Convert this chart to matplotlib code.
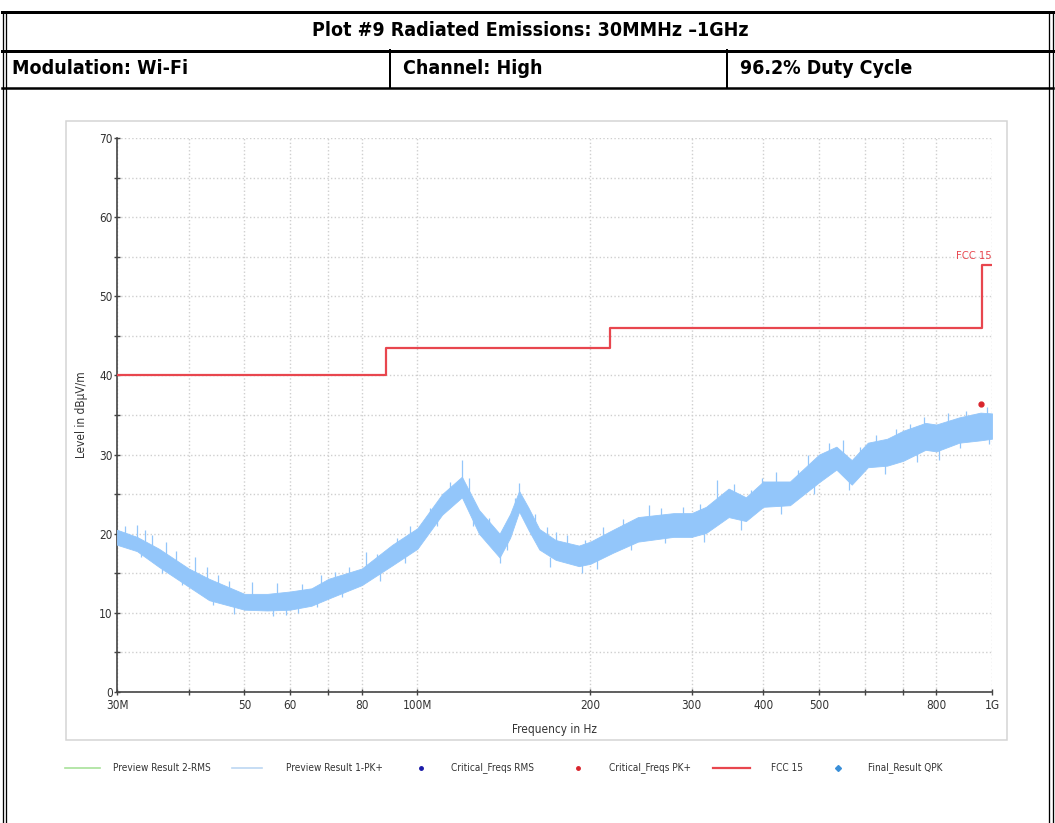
import matplotlib
matplotlib.use('Agg')
import matplotlib.pyplot as plt
from matplotlib.lines import Line2D
from matplotlib.patches import Rectangle

plt.rcParams['font.family'] = ['DejaVu Sans']
plt.rcParams['font.stretch'] = 'condensed'

W, H = 1055, 823

title = 'Plot #9 Radiated Emissions: 30MMHz \u20131GHz'
row_cells = ['Modulation: Wi-Fi', 'Channel: High', '96.2% Duty Cycle']

# FCC 15 limit (MHz, dBuV/m)
limit_freq = [30, 88, 88, 216, 216, 960, 960, 1000]
limit_level = [40, 40, 43.5, 43.5, 46, 46, 54, 54]

# Preview Result 1-PK+ : band (low / high edge)
pk_freq = [30, 32.5, 35.5, 40, 43.4, 50, 54.8, 60, 65.4, 70, 80, 90.4, 100,
           110.4, 119.5, 128, 139, 145, 150.3, 156, 163, 174, 191, 200, 219,
           242, 279, 300, 318, 348, 373, 400, 445, 500, 536, 570, 608, 657,
           700, 766, 800, 877, 955, 1000]
pk_low = [18.6, 17.8, 15.8, 13.3, 11.6, 10.4, 10.3, 10.4, 10.9, 11.8, 13.5,
          16.0, 18.1, 22.4, 24.6, 20.0, 17.0, 19.5, 22.8, 20.5, 18.0, 16.7,
          15.9, 16.2, 17.6, 19.0, 19.6, 19.6, 20.1, 22.1, 21.6, 23.4, 23.6,
          26.5, 28.1, 26.2, 28.4, 28.6, 29.2, 30.6, 30.4, 31.5, 31.8, 32.0]
pk_high = [20.5, 19.6, 18.1, 15.6, 14.3, 12.4, 12.4, 12.7, 13.1, 14.3, 15.6,
           18.6, 20.7, 25.0, 27.2, 23.0, 20.0, 22.5, 25.4, 23.3, 20.6, 19.2,
           18.5, 19.0, 20.5, 22.1, 22.6, 22.6, 23.4, 25.7, 24.6, 26.6, 26.6,
           30.0, 31.0, 29.3, 31.5, 32.0, 33.0, 34.0, 33.8, 34.7, 35.3, 35.2]

# single noise spikes sticking out of the band
spike_freq = [31, 32.5, 33.5, 34.5, 36.5, 38, 41, 43, 45, 47, 51.6,
              33, 36, 39, 44, 48, 56, 59, 62,
              57, 63, 68, 72, 76, 81.3, 85, 92, 97,
              67, 74, 86, 95,
              105, 114, 119.5, 123, 133, 148, 150.5, 160, 168, 174, 182, 196,
              108, 125, 139, 143, 170, 193,
              210, 228, 253, 265, 290, 310, 332, 355, 380,
              205, 235, 270, 315, 365,
              398, 420, 460, 478, 520, 550, 590, 628, 680, 720, 760, 840, 900, 980,
              430, 490, 564, 650, 740, 810, 880, 990]
spike_from = [19.5, 19.0, 19.0, 18.0, 17.0, 16.0, 15.0, 14.0, 13.0, 12.0, 12.0,
              18.5, 16.5, 14.5, 12.5, 11.0, 11.0, 11.0, 11.5,
              12.0, 12.5, 13.0, 14.0, 14.5, 15.0, 16.0, 18.0, 19.5,
              12.0, 13.0, 15.0, 17.5,
              21.5, 24.5, 26.5, 25.0, 20.5, 22.5, 24.5, 21.0, 19.0, 18.5, 18.0, 17.5,
              22.5, 22.5, 17.5, 19.5, 17.0, 16.5,
              19.0, 20.0, 21.5, 21.5, 21.5, 22.0, 24.0, 24.5, 23.5,
              17.0, 19.5, 20.5, 20.5, 22.0,
              25.0, 26.0, 26.0, 28.0, 29.5, 30.0, 29.5, 30.5, 31.5, 32.0, 33.0,
              33.5, 34.0, 34.0,
              24.0, 27.0, 27.0, 29.0, 30.5, 31.0, 32.5, 33.0]
spike_to = [21.0, 21.1, 20.5, 19.8, 19.0, 17.8, 17.1, 15.8, 14.8, 14.0, 13.9,
            17.0, 15.0, 13.5, 11.0, 9.8, 9.6, 9.7, 10.0,
            13.8, 13.6, 14.8, 15.2, 15.8, 17.7, 17.5, 19.5, 21.0,
            10.8, 12.0, 14.0, 16.3,
            23.3, 26.5, 29.3, 27.0, 22.0, 24.5, 26.4, 22.5, 20.8, 20.2, 19.8, 19.2,
            21.0, 21.0, 16.3, 18.0, 15.8, 15.0,
            20.8, 21.8, 23.6, 23.2, 23.4, 23.8, 26.8, 26.3, 25.5,
            15.5, 18.0, 18.8, 19.0, 20.5,
            27.0, 27.8, 28.0, 30.0, 31.5, 31.8, 31.0, 32.5, 33.2, 33.8, 34.8,
            35.2, 35.5, 36.0,
            22.5, 25.0, 25.5, 27.5, 29.0, 29.3, 30.8, 31.3]

# Critical_Freqs PK+
crit_pk_freq = [955]
crit_pk_level = [36.4]

x_ticks = [30, 40, 50, 60, 70, 80, 100, 200, 300, 400, 500, 600, 700, 800, 1000]
x_labels = ['30M', '', '50', '60', '', '80', '100M', '200', '300', '400',
            '500', '', '', '800', '1G']
y_ticks = [0, 10, 20, 30, 40, 50, 60, 70]

legend_labels = ['Preview Result 2-RMS', 'Preview Result 1-PK+',
                 'Critical_Freqs RMS', 'Critical_Freqs PK+', 'FCC 15',
                 'Final_Result QPK']

RED = '#e8464e'
BLUE = '#93c6fa'


def fx(px):
    return px / W


def fy(py):
    return 1 - py / H


def lw(px):
    return px * 72 / 100


fig = plt.figure(figsize=(W / 100, H / 100), dpi=100)

# document frame / table
frame = [
    ((2.5, 2.5), (12, H)), ((6, 6), (12, H)),
    ((1048.5, 1048.5), (12, H)), ((1052.5, 1052.5), (12, H)),
]
for xs, ys in frame:
    fig.add_artist(Line2D([fx(x) for x in xs], [fy(y) for y in ys],
                          color='black', lw=lw(1.3)))
fig.add_artist(Line2D([fx(2), fx(1053)], [fy(12), fy(12)], color='black', lw=lw(3)))
fig.add_artist(Line2D([fx(2), fx(1053)], [fy(50.5), fy(50.5)], color='black', lw=lw(3)))
fig.add_artist(Line2D([fx(2), fx(1053)], [fy(88), fy(88)], color='black', lw=lw(2.5)))
for xc in [390, 727]:
    fig.add_artist(Line2D([fx(xc), fx(xc)], [fy(50), fy(88)], color='black', lw=lw(2)))

fig.text(fx(530), fy(31), title, ha='center', va='center', fontsize=14,
         fontweight='bold')
for xt, txt in zip([12, 403, 740], row_cells):
    fig.text(fx(xt), fy(69), txt, ha='left', va='center', fontsize=14,
             fontweight='bold')

# grey frame of the embedded chart picture
fig.add_artist(Rectangle((fx(66), fy(740)), fx(1007 - 66), (740 - 121) / H,
                         transform=fig.transFigure, fill=False,
                         edgecolor='#d4d4d4', lw=lw(1.5)))

ax = fig.add_axes([fx(117), fy(692), fx(992 - 117), (692 - 138) / H])
ax.set_xscale('log')
ax.set_xlim(30, 1000)
ax.set_ylim(0, 70)

ax.fill_between(pk_freq, pk_low, pk_high, color=BLUE, lw=0.6, edgecolor=BLUE,
                zorder=3)
ax.vlines(spike_freq, spike_from, spike_to, color=BLUE, lw=0.9, zorder=3)
ax.plot(limit_freq, limit_level, color=RED, lw=1.6, zorder=4)
ax.plot(crit_pk_freq, crit_pk_level, 'o', color='#d9252d', ms=3.5, zorder=5)
ax.text(1000, 54.4, 'FCC 15', color=RED, fontsize=8, ha='right', va='bottom')

ax.set_xticks(x_ticks)
ax.set_xticklabels(x_labels)
ax.xaxis.set_minor_locator(matplotlib.ticker.NullLocator())
ax.set_yticks(y_ticks)
ax.set_yticks([5, 15, 25, 35, 45, 55, 65], minor=True)
ax.grid(True, which='both', color='#cfcfcf', ls=':', lw=1.0)
ax.tick_params(axis='both', which='both', direction='inout', length=4,
               width=1, color='#444444', labelsize=8.5, labelcolor='#333333')
ax.tick_params(axis='x', pad=3)
ax.tick_params(axis='y', pad=1)
for s in ['top', 'right']:
    ax.spines[s].set_visible(False)
for s in ['left', 'bottom']:
    ax.spines[s].set_color('#444444')
    ax.spines[s].set_linewidth(1.2)
ax.set_axisbelow(True)

ax.set_ylabel('Level in dB\u00b5V/m', fontsize=8.5, color='#333333')
ax.yaxis.set_label_coords(-0.033, 0.5)
ax.set_xlabel('Frequency in Hz', fontsize=8.5, color='#333333')
ax.xaxis.set_label_coords(0.5, -0.056)

# legend row under the chart
ly = fy(768)
fig.add_artist(Line2D([fx(65), fx(100)], [ly, ly], color='#a8e29a', lw=1.2))
fig.add_artist(Line2D([fx(232), fx(262)], [ly, ly], color='#bcd7f2', lw=1.2))
fig.add_artist(Line2D([fx(421)], [ly], color='#1a1aa8', marker='o', ms=2.5, lw=0))
fig.add_artist(Line2D([fx(578)], [ly], color='#d9252d', marker='o', ms=2.5, lw=0))
fig.add_artist(Line2D([fx(713), fx(750)], [ly, ly], color=RED, lw=1.6))
fig.add_artist(Line2D([fx(838)], [ly], color='#3a8fd8', marker='D', ms=3, lw=0))
for xt, txt in zip([113, 286, 451, 609, 771, 868], legend_labels):
    fig.text(fx(xt), ly, txt, ha='left', va='center', fontsize=7.2,
             color='#333333')

fig.savefig('out.png', dpi=100)
